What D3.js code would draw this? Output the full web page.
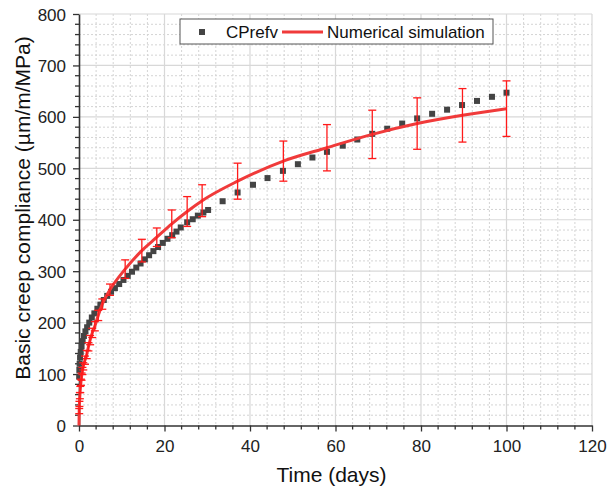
<!DOCTYPE html>
<html>
<head>
<meta charset="utf-8">
<script src="https://cdn.jsdelivr.net/npm/d3@7"></script>
<style>
  body { margin: 0; background: #fff; }
  text { font-family: Arial, "Liberation Sans", sans-serif; }
</style>
</head>
<body>
<svg id="chart" width="612" height="494"></svg>
<script>
// experimental points (CPrefv)
const expTime = [0.04, 0.08, 0.15, 0.25, 0.4, 0.6, 0.85, 1.15, 1.5, 1.9, 2.4, 3.0, 3.6, 4.3, 5.0, 5.8, 6.6, 7.5, 8.4, 9.4,
  10.4, 11.4, 12.4, 13.4, 14.4, 15.4, 16.4, 17.4, 18.5, 19.6, 20.7, 21.8, 22.8, 23.8, 25.3, 26.6, 27.8, 29.1, 30.2,
  33.6, 37.1, 40.7, 44.1, 47.7, 51.2, 54.6, 58.0, 61.7, 65.1, 68.6, 72.1, 75.6, 79.1, 82.6, 86.1, 89.6, 93.1, 96.6, 100];
const expValue = [95, 108, 120, 132, 143, 154, 164, 174, 183, 191, 200, 210, 218, 227, 235, 244, 252, 260, 267, 275,
  283, 291, 299, 307, 315, 323, 331, 339, 347, 355, 363, 370, 377, 385, 395, 401, 408, 414, 419,
  436, 453, 468, 481, 495, 508, 521, 532, 544, 556, 567, 577, 587, 597, 606, 614, 623, 631, 639, 647];

// numerical simulation with error bars
const simTime = [0, 0.05, 0.1, 0.2, 0.3, 0.45, 0.6, 0.8, 1.0, 1.4, 1.8, 2.2, 2.6, 3.1, 3.7, 4.5, 5.45, 7.25,
  10.8, 14.7, 18.2, 21.7, 25.3, 28.8, 37.1, 47.8, 58, 68.6, 79.1, 89.7, 100];
const simValue = [0, 28, 42, 58, 70, 84, 95, 106, 115, 127, 138, 153, 166, 180, 193, 214, 236, 264,
  304, 340, 366, 392, 416, 437, 475, 514, 540, 566, 587, 603, 616];
const simError = [0, 5, 5, 6, 6, 6, 7, 7, 7, 8, 8, 8, 9, 9, 9, 10, 10, 11,
  18, 22, 18, 27, 29, 31, 35, 39, 45, 47, 50, 52, 54];

const xTicks = [0, 20, 40, 60, 80, 100, 120];
const yTicks = [0, 100, 200, 300, 400, 500, 600, 700, 800];

const svg = d3.select("#chart");
const margin = { top: 14, right: 20, bottom: 68.5, left: 79 };
const innerWidth = 612 - margin.left - margin.right;
const innerHeight = 494 - margin.top - margin.bottom;
const g = svg.append("g").attr("transform", "translate(" + margin.left + "," + margin.top + ")");

const x = d3.scaleLinear().domain([0, 120]).range([0, innerWidth]);
const y = d3.scaleLinear().domain([0, 800]).range([innerHeight, 0]);

// grid: dashed minor, solid major
const xMinor = d3.range(0, 121, 4).filter(d => d % 20 !== 0);
const yMinor = d3.range(0, 801, 20).filter(d => d % 100 !== 0);
g.append("g").selectAll("line").data(xMinor).join("line")
  .attr("x1", d => x(d)).attr("x2", d => x(d)).attr("y1", 0).attr("y2", innerHeight)
  .attr("stroke", "#d4d4d4").attr("stroke-width", 1).attr("stroke-dasharray", "2,2");
g.append("g").selectAll("line").data(yMinor).join("line")
  .attr("y1", d => y(d)).attr("y2", d => y(d)).attr("x1", 0).attr("x2", innerWidth)
  .attr("stroke", "#d4d4d4").attr("stroke-width", 1).attr("stroke-dasharray", "2,2");
g.append("g").selectAll("line").data(xTicks.slice(1)).join("line")
  .attr("x1", d => x(d)).attr("x2", d => x(d)).attr("y1", 0).attr("y2", innerHeight)
  .attr("stroke", "#d8d8d8").attr("stroke-width", 1.2);
g.append("g").selectAll("line").data(yTicks.slice(1)).join("line")
  .attr("y1", d => y(d)).attr("y2", d => y(d)).attr("x1", 0).attr("x2", innerWidth)
  .attr("stroke", "#d8d8d8").attr("stroke-width", 1.2);

// axes
const xAxis = g.append("g").attr("transform", "translate(0," + innerHeight + ")")
  .call(d3.axisBottom(x).tickValues(xTicks).tickSize(6).tickSizeOuter(0));
xAxis.selectAll(".tick text").attr("y", 26).attr("dy", null);
xAxis.append("g").selectAll("line").data(xMinor).join("line")
  .attr("x1", d => x(d)).attr("x2", d => x(d)).attr("y1", 0).attr("y2", 4)
  .attr("stroke", "#333").attr("stroke-width", 1.3);
const yAxis = g.append("g")
  .call(d3.axisLeft(y).tickValues(yTicks).tickSize(6).tickSizeOuter(0));
yAxis.selectAll(".tick text").attr("x", -13).attr("y", 6).attr("dy", null);
yAxis.append("g").selectAll("line").data(yMinor).join("line")
  .attr("y1", d => y(d)).attr("y2", d => y(d)).attr("x1", 0).attr("x2", -4)
  .attr("stroke", "#333").attr("stroke-width", 1.3);
[xAxis, yAxis].forEach(a => {
  a.attr("font-family", null).attr("font-size", null);
  a.select(".domain").attr("stroke", "#333").attr("stroke-width", 1.6);
  a.selectAll(".tick line").attr("stroke", "#333").attr("stroke-width", 1.3);
  a.selectAll(".tick text").attr("font-size", "17px").attr("fill", "#222");
});

// axis titles
svg.append("text").attr("x", margin.left + x(60) - 4).attr("y", 482)
  .attr("text-anchor", "middle").attr("font-size", "21px").attr("fill", "#111")
  .text("Time (days)");
svg.append("text").attr("transform", "translate(30,208) rotate(-90)")
  .attr("text-anchor", "middle").attr("font-size", "21px").attr("fill", "#111")
  .text("Basic creep compliance (µm/m/MPa)");

// experimental squares
const expData = expTime.map((t, i) => ({ t: t, v: expValue[i] }));
g.append("g").selectAll("rect").data(expData).join("rect")
  .attr("x", d => x(d.t) - 3).attr("y", d => y(d.v) - 3)
  .attr("width", 6).attr("height", 6).attr("fill", "#444");

// simulation line
const simData = simTime.map((t, i) => ({ t: t, v: simValue[i], e: simError[i] }));
const line = d3.line().curve(d3.curveMonotoneX).x(d => x(d.t)).y(d => y(d.v));
g.append("path").datum(simData).attr("d", line)
  .attr("fill", "none").attr("stroke", "#f03a3a").attr("stroke-width", 3);

// error bars
const bars = g.append("g").selectAll("g").data(simData.filter(d => d.e > 0)).join("g")
  .attr("stroke", "#ff1a1a").attr("stroke-width", 1.3);
bars.append("line").attr("x1", d => x(d.t)).attr("x2", d => x(d.t))
  .attr("y1", d => y(d.v - d.e)).attr("y2", d => y(d.v + d.e));
bars.append("line").attr("x1", d => x(d.t) - 4).attr("x2", d => x(d.t) + 4)
  .attr("y1", d => y(d.v - d.e)).attr("y2", d => y(d.v - d.e));
bars.append("line").attr("x1", d => x(d.t) - 4).attr("x2", d => x(d.t) + 4)
  .attr("y1", d => y(d.v + d.e)).attr("y2", d => y(d.v + d.e));

// legend
const leg = svg.append("g").attr("transform", "translate(180,19)");
leg.append("rect").attr("width", 313).attr("height", 25)
  .attr("fill", "#fff").attr("stroke", "#555").attr("stroke-width", 1);
leg.append("rect").attr("x", 19).attr("y", 10).attr("width", 6).attr("height", 6).attr("fill", "#444");
leg.append("text").attr("x", 46).attr("y", 19).attr("font-size", "17px").attr("fill", "#111").text("CPrefv");
leg.append("line").attr("x1", 102).attr("x2", 143).attr("y1", 13).attr("y2", 13)
  .attr("stroke", "#f03a3a").attr("stroke-width", 3);
leg.append("text").attr("x", 147).attr("y", 19).attr("font-size", "17px").attr("fill", "#111").text("Numerical simulation");
</script>
</body>
</html>
